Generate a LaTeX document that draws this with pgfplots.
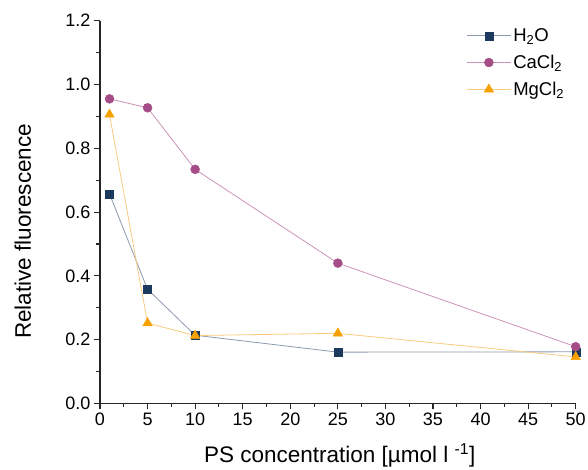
\documentclass[border=0pt]{standalone}
\usepackage{fontspec}
\setmainfont{Liberation Sans}
\usepackage{pgfplots}
\pgfplotsset{compat=1.18}
\definecolor{navy}{HTML}{1B3A5E}
\definecolor{navyl}{HTML}{8C9AAE}
\definecolor{mag}{HTML}{A44D87}
\definecolor{magl}{HTML}{CC93B8}
\definecolor{org}{HTML}{F7A100}
\definecolor{orgl}{HTML}{F9CB80}
\begin{document}
\begin{tikzpicture}
\useasboundingbox (-100pt,-66.5pt) rectangle (488pt,403.5pt);
\begin{axis}[
  at={(0,0)}, anchor=south west,
  scale only axis, width=475.7pt, height=382.8pt,
  xmin=0, xmax=50, ymin=0, ymax=1.2,
  axis x line*=bottom, axis y line*=left,
  axis line style={line width=1.1pt, black!85},
  tick align=outside,
  major tick length=6pt, minor tick length=3.5pt,
  every tick/.style={line width=1.1pt, black!85},
  xtick={0,5,...,50}, ytick={0,0.2,...,1.2},
  minor x tick num=1, minor y tick num=1,
  /pgf/number format/assume math mode=true,
  yticklabel style={/pgf/number format/.cd, fixed, fixed zerofill, precision=1},
  ticklabel style={font=\fontsize{18}{21}\selectfont},
  xlabel={PS concentration [µmol l \textsuperscript{-1}]},
  ylabel={Relative fluorescence},
  label style={font=\fontsize{22.5}{27}\selectfont},
  xlabel style={at={(axis description cs:0.504,-0.135)}, anchor=center},
  ylabel style={at={(axis description cs:-0.162,0.45)}, anchor=center},
  clip=false,
  legend style={at={(axis description cs:0.77,0.985)}, anchor=north west, draw=none, fill=none,
    font=\fontsize{18.5}{22}\selectfont, row sep=8pt, inner sep=0pt},
  legend cell align=left,
  legend image code/.code={\draw[#1,mark repeat=2,mark phase=2] plot coordinates {(0pt,0pt)(22pt,0pt)(44pt,0pt)};},
]
\addplot[color=navyl, line width=0.8pt, mark=square*, mark size=4pt, mark options={draw=navy, fill=navy, line width=0.4pt}]
  coordinates {(1,0.657) (5,0.358) (10,0.214) (25,0.161) (50,0.162)};
\addlegendentry{H\textsubscript{2}O}
\addplot[color=magl, line width=0.8pt, mark=*, mark size=4.5pt, mark options={draw=mag, fill=mag, line width=0.4pt}]
  coordinates {(1,0.955) (5,0.927) (10,0.734) (25,0.440) (50,0.178)};
\addlegendentry{CaCl\textsubscript{2}}
\addplot[color=orgl, line width=0.8pt, mark=triangle*, mark size=5.5pt, mark options={draw=org, fill=org, line width=0.4pt}]
  coordinates {(1,0.906) (5,0.252) (10,0.213) (25,0.220) (50,0.146)};
\addlegendentry{MgCl\textsubscript{2}}
\end{axis}
\end{tikzpicture}
\end{document}
